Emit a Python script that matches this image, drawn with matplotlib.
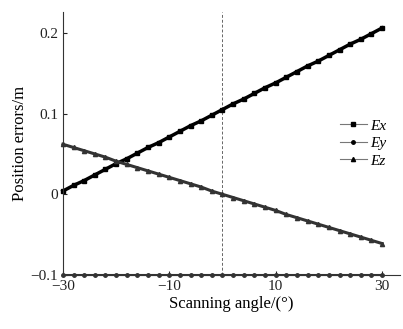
import numpy as np
import matplotlib.pyplot as plt

plt.rcParams['font.family'] = ['Liberation Serif', 'DejaVu Serif']

angle = list(range(-30, 31, 2))
ex = [0.004, 0.011, 0.017, 0.024, 0.031, 0.038, 0.044, 0.051, 0.058, 0.064,
      0.071, 0.078, 0.085, 0.091, 0.098, 0.105, 0.112, 0.118, 0.125, 0.132,
      0.138, 0.145, 0.152, 0.159, 0.165, 0.172, 0.179, 0.186, 0.192, 0.199, 0.206]
ey = [-0.1] * 31
ez = [0.062, 0.058, 0.054, 0.050, 0.046, 0.041, 0.037, 0.033, 0.029, 0.025,
      0.021, 0.017, 0.013, 0.009, 0.004, 0.000, -0.004, -0.008, -0.012, -0.016,
      -0.020, -0.025, -0.029, -0.033, -0.037, -0.041, -0.045, -0.049, -0.053, -0.057, -0.061]

fig = plt.figure(figsize=(4.03, 3.29), dpi=100)
ax = fig.add_axes([0.156, 0.164, 0.837, 0.8])

ax.axvline(0, color='#666666', lw=0.7, ls=(0, (3, 2)))
ax.plot(angle, ex, color='black', lw=2.5, marker='s', ms=3, label='Ex', clip_on=False)
ax.plot(angle, ey, color='#333333', lw=1.5, marker='o', ms=2.5, label='Ey', clip_on=False)
ax.plot(angle, ez, color='#333333', lw=2.2, marker='^', ms=3, label='Ez', clip_on=False)

ax.set_xlim(-30, 33.4)
ax.set_ylim(-0.1, 0.226)
ax.set_xticks([-30, -10, 10, 30])
ax.set_yticks([-0.1, 0, 0.1, 0.2])
ax.set_yticklabels(['\u22120.1', '0', '0.1', '0.2'])
ax.set_xticklabels(['\u221230', '\u221210', '10', '30'])
ax.tick_params(direction='in', length=3, labelsize=11, colors='#222222')
for s in ['top', 'right']:
    ax.spines[s].set_visible(False)
for s in ['left', 'bottom']:
    ax.spines[s].set_color('#333333')

ax.set_xlabel('Scanning angle/(°)', fontsize=12, labelpad=2)
ax.set_ylabel('Position errors/m', fontsize=12, labelpad=2)

leg = ax.legend(loc='center right', bbox_to_anchor=(1.0, 0.5), frameon=False,
                prop={'style': 'italic', 'size': 11}, handlelength=1.8,
                handletextpad=0.2, labelspacing=0.25)
for h in leg.get_lines():
    h.set_linewidth(0.8)
    h.set_color('#777777')
    h.set_markerfacecolor('black')
    h.set_markeredgecolor('black')

fig.savefig('out.png', dpi=100)
